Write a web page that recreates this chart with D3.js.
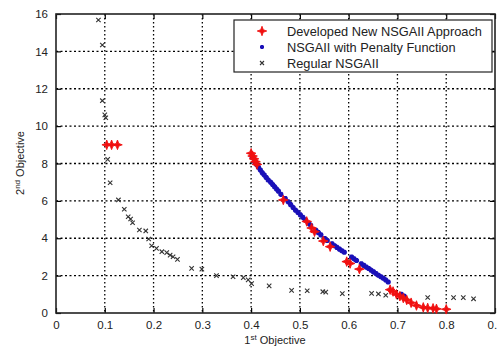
<!DOCTYPE html>
<html><head><meta charset="utf-8">
<script src="https://cdn.jsdelivr.net/npm/d3@7/dist/d3.min.js"></script>
<style>body{margin:0;background:#fff}svg{display:block}</style>
</head><body>
<svg id="c" width="497" height="347"></svg>
<script>
const xTicks = [0,0.1,0.2,0.3,0.4,0.5,0.6,0.7,0.8,0.9];
const yTicks = [0,2,4,6,8,10,12,14,16];
const seriesNames = ["Developed New NSGAII Approach","NSGAII with Penalty Function","Regular NSGAII"];

const developedX = [0.104,0.114,0.126,0.400,0.403,0.406,0.409,0.412,0.466,0.514,0.524,0.530,0.548,0.562,0.596,0.603,0.622,0.685,0.691,0.698,0.705,0.712,0.719,0.728,0.739,0.753,0.762,0.773,0.780,0.800];
const developedY = [9.0,9.0,9.0,8.55,8.4,8.25,8.1,7.95,6.05,4.9,4.55,4.35,3.85,3.55,2.75,2.65,2.35,1.25,1.15,1.0,0.9,0.8,0.7,0.55,0.4,0.3,0.27,0.25,0.22,0.2];

const penaltyX = [0.402,0.407,0.411,0.415,0.419,0.423,0.427,0.431,0.435,0.440,0.444,0.448,0.452,0.456,0.461,0.470,0.476,0.481,0.486,0.491,0.496,0.501,0.506,0.511,0.518,0.522,0.533,0.538,0.543,0.551,0.556,0.566,0.571,0.576,0.581,0.586,0.591,0.606,0.611,0.616,0.626,0.631,0.636,0.641,0.646,0.651,0.656,0.661,0.666,0.671,0.676,0.681,0.708,0.714];
const penaltyY = [8.35,8.1,7.95,7.8,7.65,7.5,7.38,7.25,7.12,7.0,6.88,6.76,6.64,6.52,6.35,6.12,5.95,5.8,5.65,5.5,5.38,5.25,5.12,4.98,4.8,4.7,4.42,4.3,4.18,3.98,3.88,3.7,3.6,3.51,3.42,3.33,3.25,2.99,2.9,2.81,2.63,2.55,2.46,2.38,2.29,2.2,2.11,2.02,1.94,1.86,1.77,1.66,1.0,0.9];

const regularX = [0.087,0.095,0.095,0.100,0.102,0.106,0.111,0.128,0.140,0.148,0.153,0.157,0.171,0.184,0.190,0.196,0.206,0.217,0.227,0.234,0.240,0.249,0.278,0.299,0.329,0.363,0.384,0.394,0.401,0.437,0.483,0.515,0.547,0.553,0.587,0.647,0.661,0.676,0.762,0.815,0.835,0.856];
const regularY = [15.68,14.34,11.36,10.6,10.45,8.22,6.97,6.05,5.55,5.15,5.03,4.83,4.44,4.39,3.96,3.6,3.46,3.28,3.23,3.1,3.01,2.87,2.39,2.35,2.0,1.94,1.89,1.77,1.57,1.45,1.21,1.19,1.14,1.12,1.04,1.05,1.02,0.95,0.83,0.82,0.82,0.76];

const W=497,H=347, L=56, R=495, T=14, B=313;
const svg = d3.select("#c");
const x = d3.scaleLinear().domain([0,0.9]).range([L,R]);
const y = d3.scaleLinear().domain([0,16]).range([B,T]);
const font = "Arial, 'Liberation Sans', sans-serif";

// grid
const g = svg.append("g");
g.selectAll(".vg").data(xTicks.filter(t=>t>0&&t<0.9)).join("line")
  .attr("x1",d=>x(d)).attr("x2",d=>x(d)).attr("y1",T).attr("y2",B)
  .attr("stroke","#000").attr("stroke-width",1.3).attr("stroke-dasharray","1.5,2.5");
g.selectAll(".hg").data(yTicks.filter(t=>t>0&&t<16)).join("line")
  .attr("y1",d=>y(d)).attr("y2",d=>y(d)).attr("x1",L).attr("x2",R)
  .attr("stroke","#000").attr("stroke-width",1.3).attr("stroke-dasharray","2,2.5");

// axes
const xAxis = d3.axisBottom(x).tickValues(xTicks).tickSize(-5).tickPadding(8).tickFormat(d=>d===0?"0":d3.format(".1f")(d));
const xa = svg.append("g").attr("transform",`translate(0,${B})`).call(xAxis);
const yAxis = d3.axisLeft(y).tickValues(yTicks).tickSize(-5).tickPadding(8).tickFormat(d3.format("d"));
const ya = svg.append("g").attr("transform",`translate(${L},0)`).call(yAxis);
const xTop = svg.append("g").attr("transform",`translate(0,${T})`).call(d3.axisTop(x).tickValues(xTicks).tickSize(-5).tickFormat(""));
const yRight = svg.append("g").attr("transform",`translate(${R},0)`).call(d3.axisRight(y).tickValues(yTicks).tickSize(-5).tickFormat(""));
[xa,ya,xTop,yRight].forEach(a=>{
  a.select(".domain").remove();
  a.selectAll(".tick line").attr("stroke","#000").attr("stroke-width",1.2);
  a.selectAll("text").attr("font-family",font).attr("font-size",11.5).attr("fill","#222");
});
svg.append("rect").attr("x",L).attr("y",T).attr("width",R-L).attr("height",B-T)
  .attr("fill","none").attr("stroke","#222").attr("stroke-width",1.6);

// labels
const xl = svg.append("text").attr("x",275).attr("y",344).attr("text-anchor","middle")
  .attr("font-family",font).attr("font-size",11).attr("fill","#222");
xl.append("tspan").text("1");
xl.append("tspan").attr("dy",-4).attr("font-size",8).text("st");
xl.append("tspan").attr("dy",4).text(" Objective");
const yl = svg.append("text").attr("transform","translate(24,163) rotate(-90)").attr("text-anchor","middle")
  .attr("font-family",font).attr("font-size",11).attr("fill","#222");
yl.append("tspan").text("2");
yl.append("tspan").attr("dy",-4).attr("font-size",8).text("nd");
yl.append("tspan").attr("dy",4).text(" Objective");

// markers
function xMark(sel,s){ sel.append("path").attr("d",`M${-s},${-s}L${s},${s}M${-s},${s}L${s},${-s}`); }
const reg = svg.append("g").attr("stroke","#333").attr("stroke-width",1.1).attr("fill","none");
regularX.forEach((v,i)=>{ const p=reg.append("g").attr("transform",`translate(${x(v)},${y(regularY[i])})`); xMark(p,2.2); });

const pen = svg.append("g");
penaltyX.forEach((v,i)=>{
  const p=pen.append("g").attr("transform",`translate(${x(v)},${y(penaltyY[i])})`).attr("stroke","#1a10b8").attr("stroke-width",1.8);
  p.append("path").attr("d","M-2.6,0L2.6,0M0,-2.6L0,2.6M-1.9,-1.9L1.9,1.9M-1.9,1.9L1.9,-1.9");
});

const star4 = "M0,-4.8L1.3,-1.3L4.8,0L1.3,1.3L0,4.8L-1.3,1.3L-4.8,0L-1.3,-1.3Z";
const dev = svg.append("g").attr("fill","#f01010").attr("stroke","#f01010").attr("stroke-width",0.9);
developedX.forEach((v,i)=>{ dev.append("path").attr("transform",`translate(${x(v)},${y(developedY[i])})`).attr("d",star4); });

// legend
const lg = svg.append("g");
lg.append("rect").attr("x",234).attr("y",20).attr("width",258).attr("height",52)
  .attr("fill","#fff").attr("stroke","#222").attr("stroke-width",1.2);
const rows=[31,47,63];
rows.forEach((ry,i)=>{
  lg.append("text").attr("x",287).attr("y",ry+4.5).attr("font-family",font).attr("font-size",12.8)
    .attr("fill","#222").text(seriesNames[i]);
});
lg.append("path").attr("transform",`translate(262,${rows[0]})`).attr("d",star4).attr("fill","#f01010").attr("stroke","#f01010").attr("stroke-width",0.8);
lg.append("path").attr("transform",`translate(262,${rows[1]})`).attr("d","M-2,0L2,0M0,-2L0,2M-1.5,-1.5L1.5,1.5M-1.5,1.5L1.5,-1.5").attr("stroke","#1a10b8").attr("stroke-width",1.6);
const lx = lg.append("g").attr("transform",`translate(262,${rows[2]})`).attr("stroke","#333").attr("stroke-width",1.1);
xMark(lx,2);
</script>
</body></html>
